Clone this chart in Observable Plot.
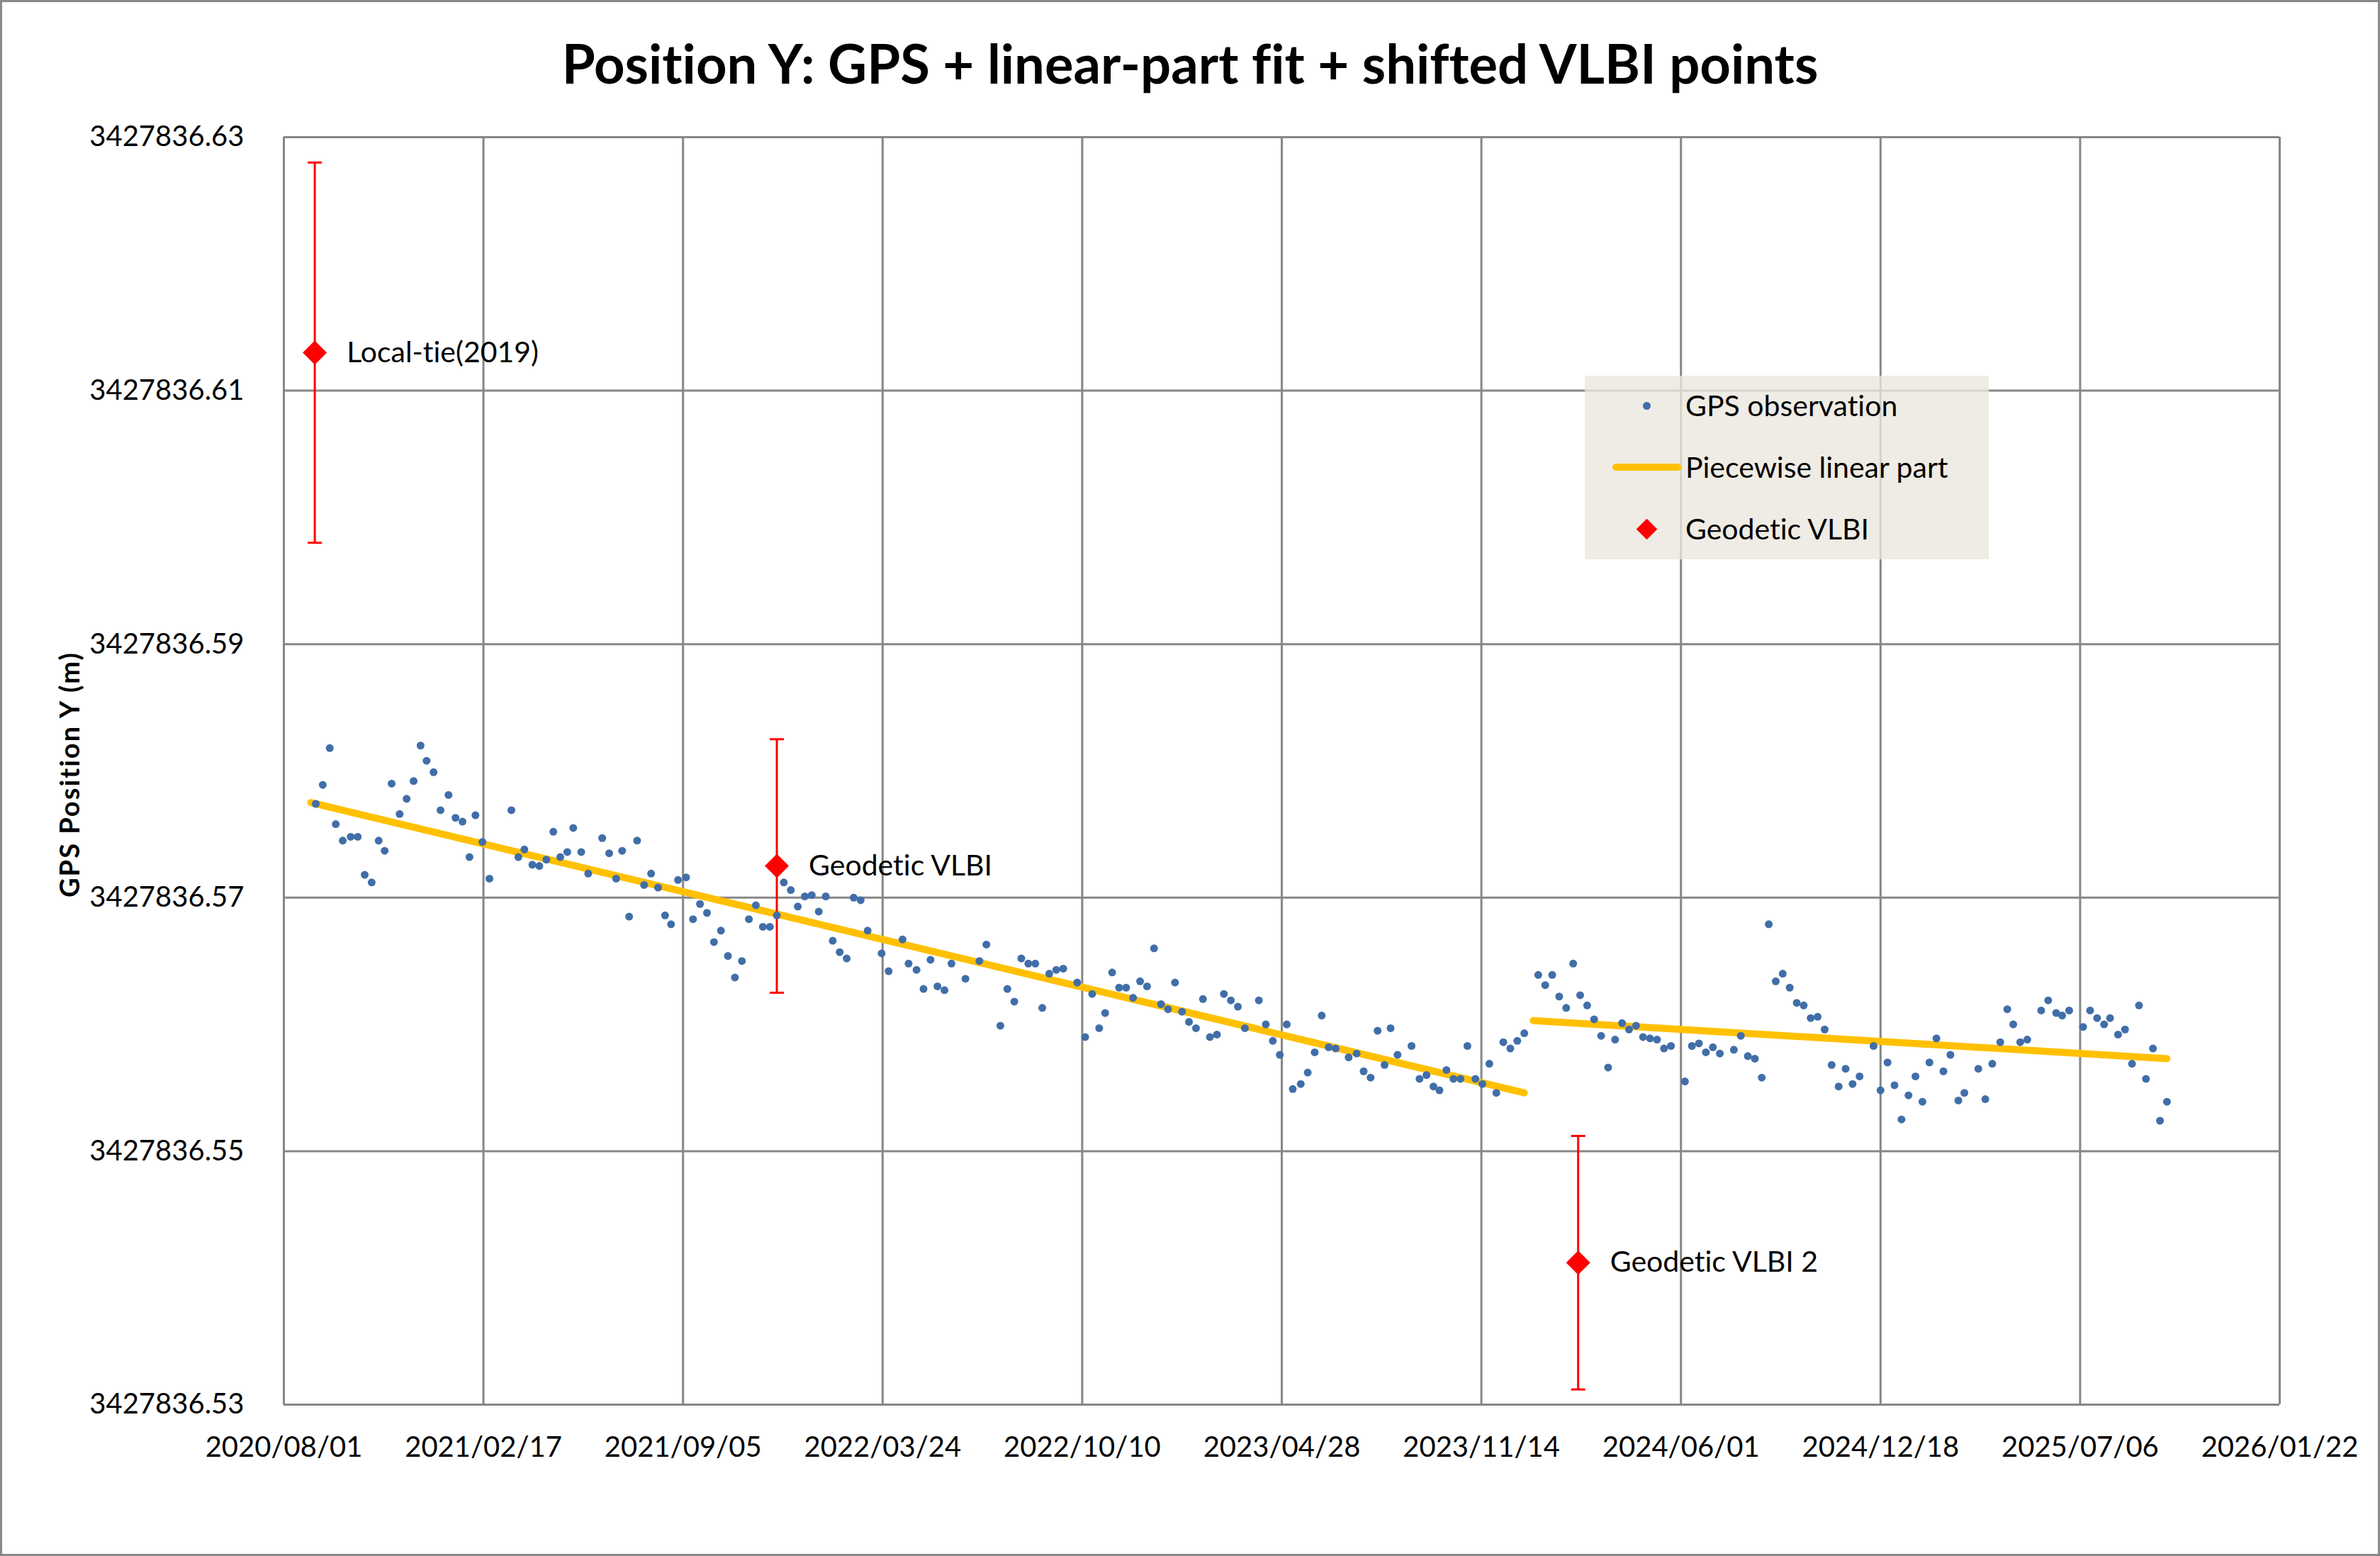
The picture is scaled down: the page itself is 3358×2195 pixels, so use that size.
<!DOCTYPE html>
<html>
<head>
<meta charset="utf-8">
<script src="https://cdn.jsdelivr.net/npm/d3@7"></script>
<script src="https://cdn.jsdelivr.net/npm/@observablehq/plot@0.6"></script>
<style>
html, body { margin: 0; padding: 0; background: #fff; }
#chart { position: relative; width: 3358px; height: 2195px; background: #fff; overflow: hidden; font-family: Lato, "Open Sans", sans-serif; font-variant-ligatures: none; }
#frame { position: absolute; left: 0; top: 0; width: 3358px; height: 2195px; box-sizing: border-box; border: 3px solid #888; pointer-events: none; }
#title { position: absolute; left: 0; top: 51px; width: 3358px; text-align: center; font-family: Lato, sans-serif; font-weight: bold; font-size: 76px; line-height: 76px; color: #000; white-space: nowrap; font-variant-ligatures: none; }
#plot { position: absolute; left: 0; top: 150px; }
#legend { position: absolute; left: 2236px; top: 530px; width: 570px; height: 259px; background: rgba(235, 231, 222, 0.78); }
.lg-row { position: absolute; left: 0; width: 570px; height: 60px; }
.lg-text { position: absolute; left: 142px; top: 0; line-height: 60px; font-size: 41px; font-family: Lato, sans-serif; color: #000; white-space: nowrap; }
.lg-dot { position: absolute; left: 81.5px; top: 24.5px; width: 11px; height: 11px; border-radius: 50%; background: #416EA8; }
.lg-line { position: absolute; left: 39px; top: 25px; width: 97px; height: 10px; border-radius: 5px; background: #FFC000; }
.lg-diamond { position: absolute; left: 76.5px; top: 19.5px; width: 21px; height: 21px; background: #FF0000; transform: rotate(45deg); }
#plot svg text { font-variant-ligatures: none; }
</style>
</head>
<body>
<div id="chart">
  <div id="title">Position Y: GPS + linear-part fit + shifted VLBI points</div>
  <div id="plot"></div>
  <div id="legend">
    <div class="lg-row" style="top:12px"><div class="lg-dot"></div><div class="lg-text">GPS observation</div></div>
    <div class="lg-row" style="top:99px"><div class="lg-line"></div><div class="lg-text">Piecewise linear part</div></div>
    <div class="lg-row" style="top:186px"><div class="lg-diamond"></div><div class="lg-text">Geodetic VLBI</div></div>
  </div>
  <div id="frame"></div>
</div>
<script>
// ---- data ----
const baseDate = "2020-08-01"; // day 0 of the day offsets below

const tickDates = ["2020-08-01","2021-02-17","2021-09-05","2022-03-24","2022-10-10","2023-04-28",
                   "2023-11-14","2024-06-01","2024-12-18","2025-07-06","2026-01-22"];
const yTicks = [3427836.53, 3427836.55, 3427836.57, 3427836.59, 3427836.61, 3427836.63];
const yLabel = "GPS Position Y (m)";

// GPS observations: days since baseDate, position Y (m)
const gpsDay = [32,39,46,52,59,67,74,81,88,95,101,108,116,123,130,137,143,150,157,165,172,179,186,192,199,206,228,235,241,249,256,263,270,277,284,290,298,305,319,326,333,339,346,354,361,368,375,382,388,395,
403,410,417,424,431,438,445,452,459,466,473,480,487,494,501,508,515,522,529,536,543,550,557,564,571,578,585,599,606,620,626,634,641,648,655,662,669,683,697,704,718,725,732,739,746,753,760,767,774,781,795,
803,810,817,823,830,837,844,851,858,865,872,879,886,893,900,907,914,921,928,935,942,949,956,963,977,984,991,998,1005,1011,1019,1026,1033,1040,1047,1054,1067,1075,1082,1089,1096,1103,1109,1116,1130,1138,1145,1152,1158,1165,1172,1179,1186,1194,
1201,1208,1215,1222,1229,1236,1243,1257,1264,1271,1278,1285,1292,1299,1306,1313,1320,1327,1334,1341,1348,1355,1362,1369,1376,1383,1390,1404,1411,1418,1425,1432,1439,1453,1460,1467,1474,1481,1488,1495,1502,1509,1516,1523,1530,1537,1544,1551,1558,1565,1572,1579,1593,
1600,1607,1614,1621,1628,1635,1642,1649,1656,1663,1670,1678,1684,1698,1705,1712,1720,1727,1733,1740,1747,1761,1768,1776,1782,1789,1803,1810,1817,1824,1830,1838,1845,1852,1859,1866,1873,1880,1887];

const gpsY = [
3427836.5774,3427836.5789,3427836.5818,3427836.5758,3427836.5745,3427836.5748,3427836.5748,3427836.5718,3427836.5712,3427836.5745,
3427836.5737,3427836.5790,3427836.5766,3427836.5778,3427836.5792,3427836.5820,3427836.5808,3427836.5799,3427836.5769,3427836.5781,
3427836.5763,3427836.5760,3427836.5732,3427836.5765,3427836.5744,3427836.5715,3427836.5769,3427836.5732,3427836.5738,3427836.5726,
3427836.5725,3427836.5730,3427836.5752,3427836.5732,3427836.5736,3427836.5755,3427836.5736,3427836.5719,3427836.5747,3427836.5735,
3427836.5715,3427836.5737,3427836.5685,3427836.5745,3427836.5710,3427836.5719,3427836.5708,3427836.5686,3427836.5679,3427836.5714,
3427836.5716,3427836.5683,3427836.5695,3427836.5688,3427836.5665,3427836.5674,3427836.5654,3427836.5637,3427836.5650,3427836.5683,
3427836.5694,3427836.5677,3427836.5677,3427836.5686,3427836.5712,3427836.5706,3427836.5693,3427836.5701,3427836.5702,3427836.5689,
3427836.5701,3427836.5666,3427836.5657,3427836.5652,3427836.5700,3427836.5698,3427836.5674,3427836.5656,3427836.5642,3427836.5667,
3427836.5648,3427836.5643,3427836.5628,3427836.5651,3427836.5630,3427836.5627,3427836.5648,3427836.5636,3427836.5650,3427836.5663,
3427836.5599,3427836.5628,3427836.5618,3427836.5652,3427836.5648,3427836.5648,3427836.5613,3427836.5640,3427836.5643,3427836.5644,
3427836.5633,
3427836.5590,3427836.5624,3427836.5597,3427836.5609,3427836.5641,3427836.5629,3427836.5629,3427836.5621,3427836.5634,3427836.5630,
3427836.5660,3427836.5616,3427836.5612,3427836.5633,3427836.5610,3427836.5602,3427836.5597,3427836.5620,3427836.5590,3427836.5592,
3427836.5624,3427836.5619,3427836.5614,3427836.5597,3427836.5619,3427836.5600,3427836.5587,3427836.5576,3427836.5600,3427836.5549,
3427836.5553,3427836.5562,3427836.5578,3427836.5607,3427836.5582,3427836.5581,3427836.5574,3427836.5577,3427836.5563,3427836.5558,
3427836.5595,3427836.5568,3427836.5597,3427836.5576,3427836.5583,3427836.5557,3427836.5560,3427836.5551,3427836.5548,3427836.5564,
3427836.5557,3427836.5557,3427836.5583,3427836.5557,
3427836.5553,3427836.5569,3427836.5546,3427836.5586,3427836.5581,3427836.5587,3427836.5593,3427836.5639,3427836.5631,3427836.5639,
3427836.5622,3427836.5613,3427836.5648,3427836.5623,3427836.5615,3427836.5604,3427836.5591,3427836.5566,3427836.5588,3427836.5601,
3427836.5596,3427836.5599,3427836.5590,3427836.5589,3427836.5588,3427836.5581,3427836.5583,3427836.5555,3427836.5583,3427836.5585,
3427836.5578,3427836.5582,3427836.5577,3427836.5580,3427836.5591,3427836.5575,3427836.5573,3427836.5558,3427836.5679,3427836.5634,
3427836.5640,3427836.5629,3427836.5617,3427836.5615,3427836.5605,3427836.5606,3427836.5596,3427836.5568,3427836.5551,3427836.5565,
3427836.5553,3427836.5559,3427836.5583,
3427836.5548,3427836.5570,3427836.5552,3427836.5525,3427836.5544,3427836.5559,3427836.5539,3427836.5570,3427836.5589,3427836.5563,
3427836.5576,3427836.5540,3427836.5546,3427836.5565,3427836.5541,3427836.5569,3427836.5586,3427836.5612,3427836.5600,3427836.5586,
3427836.5588,3427836.5611,3427836.5619,3427836.5609,3427836.5607,3427836.5611,3427836.5598,3427836.5611,3427836.5605,3427836.5600,
3427836.5605,3427836.5592,3427836.5596,3427836.5569,3427836.5615,3427836.5557,3427836.5581,3427836.5524,3427836.5539];

// Piecewise linear part (two segments): days since baseDate, position Y (m)
const fitSegment = [1, 1, 2, 2];
const fitDay = [27, 1243, 1252, 1887];
const fitY = [3427836.5775, 3427836.5546, 3427836.5603, 3427836.5573];

// Shifted VLBI points with error bars
const vlbiLabel = ["Local-tie(2019)", "Geodetic VLBI", "Geodetic VLBI 2"];
const vlbiDay = [31, 494, 1297];
const vlbiY = [3427836.6130, 3427836.5725, 3427836.5412];
const vlbiErr = [0.0150, 0.0100, 0.0100];

// ---- build ----
const day0 = d3.utcParse("%Y-%m-%d")(baseDate);
const toDate = d => d3.utcDay.offset(day0, d);
const parse = d3.utcParse("%Y-%m-%d");
const xTicks = tickDates.map(parse);

const gps = gpsDay.map((d, i) => ({date: toDate(d), y: gpsY[i]}));
const fit = fitDay.map((d, i) => ({date: toDate(d), y: fitY[i], seg: fitSegment[i]}));
const vlbi = vlbiDay.map((d, i) => ({date: toDate(d), y: vlbiY[i], lo: vlbiY[i] - vlbiErr[i], hi: vlbiY[i] + vlbiErr[i], label: vlbiLabel[i]}));
const caps = vlbi.flatMap(v => [{date: v.date, y: v.lo}, {date: v.date, y: v.hi}]);

const capSymbol = {draw(ctx, size) { const r = Math.sqrt(size / Math.PI); ctx.moveTo(-r, 0); ctx.lineTo(r, 0); }};
const diamondSymbol = {draw(ctx, size) { const r = Math.sqrt(size / Math.PI); ctx.moveTo(0, -r); ctx.lineTo(r, 0); ctx.lineTo(0, r); ctx.lineTo(-r, 0); ctx.closePath(); }};

const chart = Plot.plot({
  width: 3358,
  height: 2045,
  marginLeft: 400,
  marginRight: 142,
  marginTop: 43,
  marginBottom: 214,
  style: {fontFamily: "Lato, 'Open Sans', sans-serif", fontSize: "40px", color: "#000", background: "transparent"},
  x: {type: "utc", domain: [xTicks[0], xTicks[xTicks.length - 1]]},
  y: {domain: [yTicks[0], yTicks[yTicks.length - 1]]},
  marks: [
    Plot.gridX(xTicks, {stroke: "#878787", strokeOpacity: 1, strokeWidth: 3}),
    Plot.gridY(yTicks, {stroke: "#878787", strokeOpacity: 1, strokeWidth: 3}),
    Plot.axisX(xTicks, {tickSize: 0, tickPadding: 45, fontSize: 40, tickFormat: d3.utcFormat("%Y/%m/%d"), label: null}),
    Plot.axisY(yTicks, {tickSize: 0, tickPadding: 56, fontSize: 40, tickFormat: d3.format(".2f"), label: null}),
    Plot.text([yLabel], {text: d => d, frameAnchor: "left", textAnchor: "middle", rotate: -90, dx: -301, dy: 5, fontWeight: "bold", fontSize: 38, fill: "#000"}),
    Plot.line(fit, {x: "date", y: "y", z: "seg", stroke: "#FFC000", strokeWidth: 10, strokeLinecap: "round"}),
    Plot.link(vlbi, {x1: "date", x2: "date", y1: "lo", y2: "hi", stroke: "#FF0000", strokeWidth: 3}),
    Plot.dot(caps, {x: "date", y: "y", symbol: capSymbol, r: 10, stroke: "#FF0000", strokeWidth: 3, fill: "none"}),
    Plot.dot(gps, {x: "date", y: "y", r: 5.5, fill: "#416EA8", stroke: "none"}),
    Plot.dot(vlbi, {x: "date", y: "y", symbol: diamondSymbol, r: 17, fill: "#FF0000", stroke: "none"}),
    Plot.text(vlbi, {x: "date", y: "y", text: "label", dx: 45, textAnchor: "start", fontSize: 41, fill: "#000"})
  ]
});
document.getElementById("plot").appendChild(chart);
// widen the y-axis title slightly, as in the reference
d3.select(chart).selectAll("text").filter(function() { return this.textContent === yLabel; }).style("letter-spacing", "2px");
</script>
</body>
</html>
